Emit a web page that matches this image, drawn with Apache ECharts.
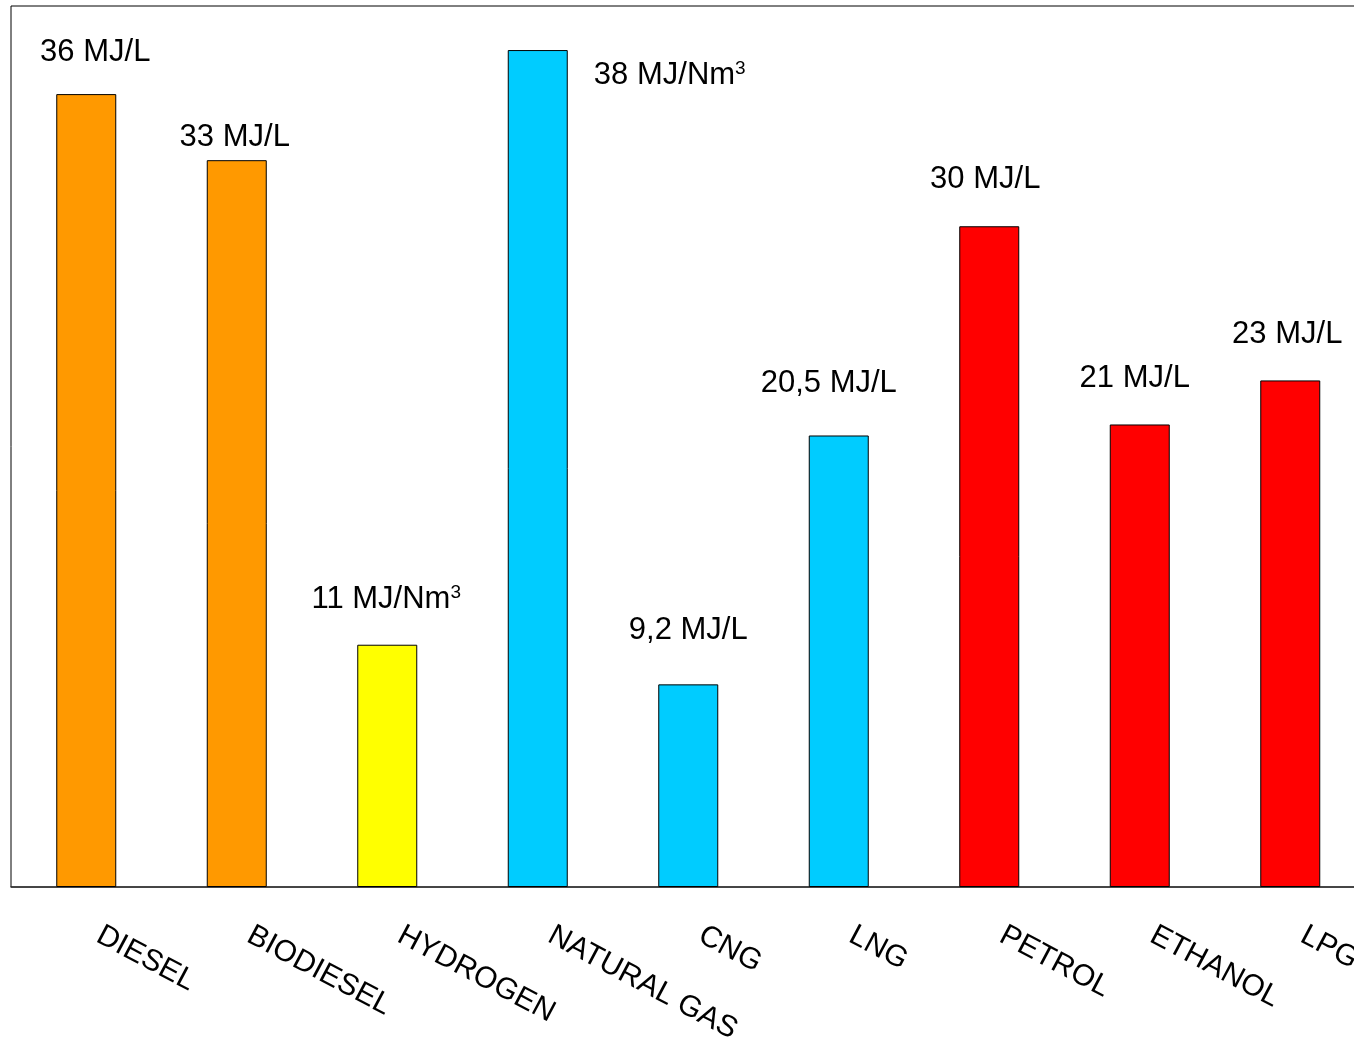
<!DOCTYPE html>
<html>
<head>
<meta charset="utf-8">
<script src="https://cdn.jsdelivr.net/npm/echarts@6/dist/echarts.min.js"></script>
<style>
  html, body { margin: 0; padding: 0; background: #fff; }
  #chart { width: 1354px; height: 1045px; }
</style>
</head>
<body>
<div id="chart"></div>
<script>
// Energy content per fuel
const fuels = ['DIESEL', 'BIODIESEL', 'HYDROGEN', 'NATURAL GAS', 'CNG', 'LNG', 'PETROL', 'ETHANOL', 'LPG'];
const energy = [36, 33, 11, 38, 9.2, 20.5, 30, 21, 23];
const units = ['MJ/L', 'MJ/L', 'MJ/Nm3', 'MJ/Nm3', 'MJ/L', 'MJ/L', 'MJ/L', 'MJ/L', 'MJ/L'];
const families = ['diesel', 'diesel', 'hydrogen', 'gas', 'gas', 'gas', 'petrol', 'petrol', 'petrol'];

// Styling
const familyColor = { diesel: '#FF9900', hydrogen: '#FFFF00', gas: '#00CCFF', petrol: '#FF0000' };
const labelShift = [[9, -26], [-2, -7], [-1, -29], [132, 41], [0, -38], [-10, -36], [-4, -31], [-5, -30], [-3, -30]];
const FONT = '"Liberation Sans", Arial, sans-serif';

function labelText(v, unit) {
  const num = String(v).replace('.', ',');
  if (unit.endsWith('3')) {
    return '{a|' + num + ' ' + unit.slice(0, -1) + '}{s|3}';
  }
  return '{a|' + num + ' ' + unit + '}';
}

const chart = echarts.init(document.getElementById('chart'));
chart.setOption({
  animation: false,
  backgroundColor: '#ffffff',
  grid: {
    left: 11, top: 6, bottom: 158, width: 1354.5,
    show: true, borderColor: '#000', borderWidth: 1,
    containLabel: false, outerBoundsMode: 'none'
  },
  xAxis: {
    type: 'category',
    data: fuels,
    axisTick: { show: false },
    axisLine: { show: true, lineStyle: { color: '#333', width: 1.5 } },
    axisLabel: {
      interval: 0, rotate: -28, margin: 40, padding: [0, 0, 0, 14],
      color: '#000', fontSize: 30, fontFamily: FONT
    }
  },
  yAxis: {
    type: 'value', min: 0, max: 40,
    show: false, splitLine: { show: false }
  },
  series: [{
    type: 'bar',
    barWidth: 60,
    data: energy.map((v, i) => ({
      value: v,
      itemStyle: { color: familyColor[families[i]], borderColor: '#000', borderWidth: 1 },
      label: {
        show: true, position: 'top', distance: 0,
        offset: labelShift[i],
        formatter: labelText(v, units[i]),
        rich: {
          a: { fontSize: 31, lineHeight: 32, color: '#000', fontFamily: FONT },
          s: { fontSize: 19, lineHeight: 19, verticalAlign: 'top', color: '#000', fontFamily: FONT }
        }
      }
    }))
  }]
});
</script>
</body>
</html>
